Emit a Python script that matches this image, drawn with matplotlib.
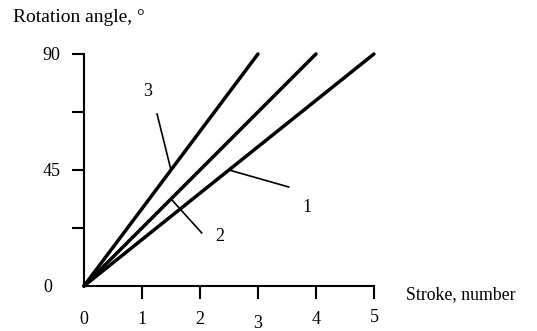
import matplotlib
matplotlib.use("Agg")
import matplotlib.pyplot as plt

plt.rcParams["font.family"] = ["Liberation Serif", "DejaVu Serif"]

# Rotation angle vs. stroke number for three configurations
series_names = ["1", "2", "3"]
stroke_start = [0, 0, 0]
stroke_end = [5, 4, 3]
angle_start = [0, 0, 0]
angle_end = [90, 90, 90]

# Leader lines: point on the curve -> label end, and label anchor
leader_from_x = [2.5, 1.5, 1.5]
leader_from_y = [45, 33.75, 45]
leader_to_x = [3.53, 2.03, 1.26]
leader_to_y = [38.4, 20.6, 66.7]
label_x = [3.84, 2.34, 1.10]
label_y = [30.6, 19.0, 75.6]

x_ticks = [1, 2, 3, 4, 5]
x_tick_labels = ["0", "1", "2", "3", "4", "5"]
x_label_pos = [0, 1, 2, 3, 4, 5]
y_ticks = [22.5, 45, 67.5, 90]
y_tick_labels = ["0", "45", "90"]
y_label_pos = [0, 45, 90]

fig = plt.figure(figsize=(5.37, 3.31), dpi=100)
ax = fig.add_axes([0.1564, 0.136, 0.540, 0.701])
ax.set_xlim(0, 5)
ax.set_ylim(0, 90)
ax.set_facecolor("none")
for s in ["top", "right"]:
    ax.spines[s].set_visible(False)
for s in ["left", "bottom"]:
    ax.spines[s].set_linewidth(1.5)
    ax.spines[s].set_clip_on(False)

for x0, x1, y0, y1 in zip(stroke_start, stroke_end, angle_start, angle_end):
    ax.plot([x0, x1], [y0, y1], color="black", lw=2.5,
            solid_capstyle="round", clip_on=False)

for fx, fy, tx, ty, lx, ly, name in zip(leader_from_x, leader_from_y,
                                        leader_to_x, leader_to_y,
                                        label_x, label_y, series_names):
    ax.plot([fx, tx], [fy, ty], color="black", lw=1.2, clip_on=False)
    ax.text(lx, ly, name, fontsize=13, ha="center", va="center")

ax.set_xticks(x_ticks)
ax.set_yticks(y_ticks)
ax.set_xticklabels([])
ax.set_yticklabels([])
ax.tick_params(axis="both", direction="out", length=9, width=1.5, color="black")

# tick labels placed individually
x_label_dy = [0, 0, 0, -3, 0, 1]
for pos, lab, dy in zip(x_label_pos, x_tick_labels, x_label_dy):
    ax.annotate(lab, xy=(pos, 0), xycoords=("data", "axes fraction"),
                xytext=(0, -24 + dy), textcoords="offset points",
                ha="center", va="center", fontsize=13)

y_label_right = [-23, -17, -17]
for pos, lab, dx in zip(y_label_pos, y_tick_labels, y_label_right):
    ax.annotate(lab, xy=(0, pos), xycoords=("axes fraction", "data"),
                xytext=(dx, -1), textcoords="offset points",
                ha="right", va="center", fontsize=13)

fig.text(13 / 537, 1 - 17 / 331, "Rotation angle, \u00b0", fontsize=14,
         ha="left", va="center")
fig.text(406 / 537, 1 - 295 / 331, "Stroke, number", fontsize=12.8,
         ha="left", va="center")

fig.savefig("out.png", dpi=100, facecolor="white")
